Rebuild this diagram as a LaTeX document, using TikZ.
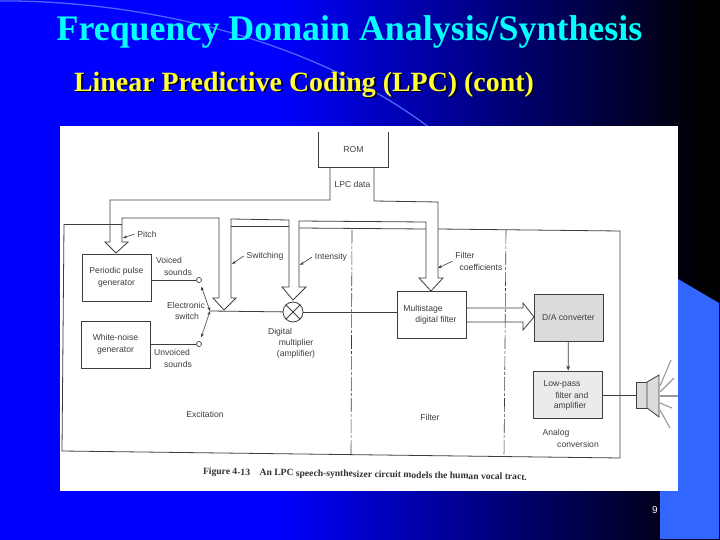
\documentclass[tikz,border=0pt]{standalone}
\usepackage{fontspec}
\setmainfont{Liberation Serif}
\setsansfont{Liberation Sans}
\usetikzlibrary{arrows.meta}
\pgfdeclarehorizontalshading{slidebg}{100bp}{color(0bp)=(blue); color(44bp)=(blue); color(74bp)=(black); color(100bp)=(black)}
\definecolor{inkgray}{HTML}{3E3E3E}
\definecolor{panelblue}{HTML}{3366FF}
\definecolor{arcblue}{HTML}{4A66FF}
\definecolor{titlecyan}{HTML}{00FFFF}
\definecolor{subyellow}{HTML}{FFFF33}
\tikzset{
  block/.style={draw=inkgray,line width=0.8pt,minimum width=#1,minimum height=47pt,inner sep=0pt,font=\sffamily\fontsize{8.6}{11.5}\selectfont,text=inkgray,align=center},
  block/.default=69pt,
  label/.style={inner sep=0pt,outer sep=3pt,font=\sffamily\fontsize{8.6}{10}\selectfont,text=inkgray},
  wire/.style={draw=inkgray,line width=0.8pt},
  leader/.style={draw=inkgray,line width=0.6pt,-{Stealth[length=4pt,width=3pt]}},
  contact/.style={draw=inkgray,circle,fill=white,line width=0.7pt,minimum size=5pt,inner sep=0pt},
  ray/.style={draw=gray!80,line width=1.1pt},
}
\begin{document}
\begin{tikzpicture}[x=1pt,y=-1pt]
    \useasboundingbox (0,0) rectangle (720,540);
    \shade[shading=slidebg] (0,0) rectangle (720,540);
    \draw[arcblue,line width=1.3pt] (0,1) .. controls (120,0) and (300,30) .. (430,128);
    \fill[panelblue] (678,279) -- (719,303) -- (719,539) -- (660,539) -- (660,491) -- (678,491) -- cycle;
    \fill[white] (60,126) rectangle (678,491);

    \node[font=\fontsize{35.9}{36}\selectfont\bfseries,text=titlecyan,inner sep=0pt] (title) at (349.5,32) {Frequency Domain Analysis/Synthesis};
    \node[font=\fontsize{27.9}{28}\selectfont\bfseries,text=black,inner sep=0pt] (subshadow) at (305.5,86) {Linear Predictive Coding (LPC) (cont)};
    \node[font=\fontsize{27.9}{28}\selectfont\bfseries,text=subyellow,inner sep=0pt] (subtitle) at (304,85) {Linear Predictive Coding (LPC) (cont)};
    \node[font=\sffamily\fontsize{10}{10}\selectfont,text=white,inner sep=0pt] (pagenum) at (655,510) {9};

    % outer frame and dashed section lines
    \coordinate (frameTL) at (64,224);
    \coordinate (frameBL) at (62,451);
    \coordinate (frameBR) at (620,458);
    \coordinate (frameTR) at (620,231);
    \coordinate (dashA) at (352,230);
    \coordinate (dashAb) at (351,455);
    \coordinate (dashB) at (506,230);
    \coordinate (dashBb) at (504,457);
    \draw[wire] (frameTL) -- (frameBL) -- (frameBR) -- (frameTR) -- (438,229);
    \draw[wire] (frameTL) -- (122,224);
    \draw[wire] (231,226) -- (289,226);
    \draw[wire] (299,228) -- (426,229);
    \draw[draw=inkgray,line width=0.6pt,dash pattern=on 14pt off 2pt on 3pt off 2pt] (dashA) -- (dashAb);
    \draw[draw=inkgray,line width=0.6pt,dash pattern=on 14pt off 2pt on 3pt off 2pt] (dashB) -- (dashBb);

    % blocks
    \node[block,draw=none,minimum height=35pt] (rom) at (353.5,149.5) {ROM};
    \node[block] (pulse) at (116.5,277.5) {Periodic pulse\\generator};
    \node[block] (noise) at (115.5,344.5) {White-noise\\generator};
    \node[block] (filter) at (431.5,315) {};
    \node[block,fill=black!14] (dac) at (568.5,317.5) {D/A converter};
    \node[block,fill=black!8] (lowpass) at (568,394.5) {};
    \node[contact] (voiced) at (199,280) {};
    \node[contact] (unvoiced) at (199,344) {};
    \node[draw=inkgray,circle,line width=0.8pt,minimum size=20pt,inner sep=0pt] (mult) at (293,312) {};
    \coordinate (pivot) at (210,311);
    \draw[wire] (mult.north west) -- (mult.south east);
    \draw[wire] (mult.north east) -- (mult.south west);
    \draw[wire] (rom.north west) -- (rom.south west) -- (rom.south east) -- (rom.north east);

    % data bus, drawn as one outline with its four heads
    \draw[wire] (330,167) -- (330,200) -- (110,200) -- (110,242) -- (105,242) -- (116,253) -- (128,242) -- (122,242)
        -- (122,218) -- (219,218) -- (219,298) -- (213,298) -- (224,310) -- (236,298) -- (231,298)
        -- (231,219) -- (289,220) -- (289,287) -- (282,287) -- (293,300) -- (306,287) -- (299,287)
        -- (299,221) -- (426,222) -- (426,278) -- (419,278) -- (431,291) -- (443,278) -- (438,278)
        -- (438,202) -- (374,201) -- (374,167);
    \draw[wire] (466,308) -- (523,308) -- (523,303) -- (534,317) -- (523,330) -- (523,322) -- (466,322);

    % signal path
    \draw[wire] (pulse.east |- voiced) -- (voiced);
    \draw[wire] (noise.east |- unvoiced) -- (unvoiced);
    \draw[wire] (pivot) -- (mult);
    \draw[wire] (mult) -- (filter.west |- mult);
    \draw[wire,-{Stealth[length=5pt,width=4pt]}] (dac) -- (lowpass);
    \draw[leader,{Stealth[length=4pt,width=3pt]}-{Stealth[length=4pt,width=3pt]},shorten <=4pt] (voiced) -- (pivot);
    \draw[leader,{Stealth[length=4pt,width=3pt]}-{Stealth[length=4pt,width=3pt]},shorten >=4pt] (pivot) -- (unvoiced);

    % speaker
    \coordinate (spk) at (636,395);
    \fill[black!14,draw=inkgray,line width=0.8pt] (636,382) rectangle (647,408);
    \fill[black!14,draw=inkgray,line width=0.8pt] (647,382) -- (659,375) -- (659,417) -- (647,408) -- cycle;
    \draw[wire,line width=1pt] (lowpass.east |- spk) -- (spk);
    \draw[ray] (660,386) -- (671,360);
    \draw[ray] (660,392) -- (674,378);
    \draw[ray] (660,396) -- (678,396);
    \draw[ray] (660,403) -- (672,408);
    \draw[ray] (660,410) -- (670,428);

    % labels
    \node[label] (lpcL) at (352.5,184) {LPC data};
    \node[label] (pitchL) at (147,234) {Pitch};
    \node[label] (voicedL) at (169,260) {Voiced};
    \node[label] (voicedM) at (178,272) {sounds};
    \node[label] (elecL) at (186,305) {Electronic};
    \node[label] (elecM) at (187,316) {switch};
    \node[label] (unvL) at (172,352) {Unvoiced};
    \node[label] (unvM) at (178,364) {sounds};
    \node[label] (switchL) at (265,256) {Switching};
    \node[label] (intensL) at (331,257) {Intensity};
    \node[label] (digiL) at (280,332) {Digital};
    \node[label] (digiM) at (296,343) {multiplier};
    \node[label] (digiN) at (296,354) {(amplifier)};
    \node[label] (filtL) at (465,255) {Filter};
    \node[label] (filtM) at (481,267) {coefficients};
    \node[label] (multiL) at (423,309) {Multistage};
    \node[label] (multiM) at (436,320) {digital filter};
    \node[label] (lowL) at (562,384) {Low-pass};
    \node[label] (lowM) at (572,395) {filter and};
    \node[label] (lowN) at (570,406) {amplifier};
    \node[label] (excL) at (205,414) {Excitation};
    \node[label] (filterL) at (430,417) {Filter};
    \node[label] (anaL) at (556,433) {Analog};
    \node[label] (anaM) at (578,444) {conversion};
    \node[inner sep=0pt,font=\fontsize{9.6}{10}\selectfont\bfseries,text=black!80,rotate=-1] (caption) at (365,475) {Figure 4-13\quad An LPC speech-synthesizer circuit models the human vocal tract.};

    % leader arrows
    \draw[leader] (pitchL.west) -- (123,238);
    \draw[leader] (switchL.west) -- (232,264);
    \draw[leader] (intensL.west) -- (300,265);
    \draw[leader] (filtL.south west) -- (438,268);
\end{tikzpicture}
\end{document}
